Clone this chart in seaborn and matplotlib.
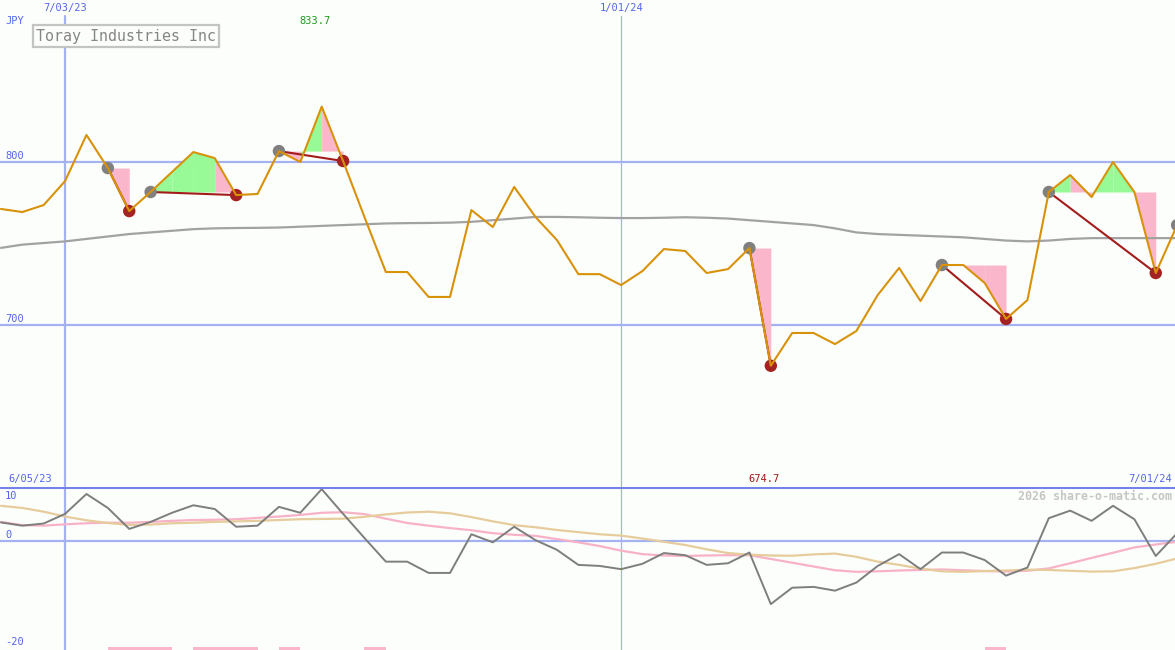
import numpy as np
import pandas as pd
import seaborn as sns
import matplotlib.pyplot as plt
import matplotlib.dates as mdates

sns.set_style("white")
plt.rcParams['font.family'] = ['DejaVu Sans Mono', 'DejaVu Sans']

# weekly data, 12 Jun 2023 .. 1 Jul 2024
weeks = pd.date_range('2023-06-12', '2024-07-01', freq='W-MON')

price = [770.9, 769.0, 773.3, 788.0, 816.3, 796.0, 769.6, 781.3, 793.6, 805.8,
         802.1, 779.4, 780.1, 806.4, 799.7, 833.7, 800.3, 765.9, 732.2, 732.2,
         716.9, 716.9, 770.2, 759.8, 784.4, 765.9, 751.8, 730.9, 730.9, 724.2,
         732.8, 746.3, 745.1, 731.6, 734.0, 746.9, 674.7, 694.8, 694.8, 688.0,
         696.0, 718.1, 734.7, 714.4, 736.5, 736.5, 725.5, 703.4, 715.0, 781.3,
         791.7, 778.2, 799.7, 781.3, 731.6, 761.0]

ma = [747.0, 749.0, 750.0, 751.0, 752.5, 754.0, 755.5, 756.5, 757.5, 758.5,
      759.0, 759.2, 759.3, 759.5, 760.0, 760.5, 761.0, 761.5, 762.0, 762.2,
      762.3, 762.5, 763.0, 764.0, 765.0, 766.0, 766.0, 765.8, 765.5, 765.3,
      765.3, 765.5, 765.8, 765.5, 765.0, 764.0, 763.0, 762.0, 761.0, 759.0,
      756.5, 755.5, 755.0, 754.5, 754.0, 753.5, 752.5, 751.5, 751.0, 751.5,
      752.5, 753.0, 753.0, 753.0, 753.0, 753.0]

osc = [3.4, 2.8, 3.2, 5.0, 8.7, 6.1, 2.2, 3.5, 5.2, 6.6,
       5.9, 2.6, 2.8, 6.3, 5.2, 9.6, 5.0, 0.5, -3.9, -3.9,
       -6.0, -6.0, 1.2, -0.3, 2.6, 0.1, -1.7, -4.5, -4.7, -5.3,
       -4.3, -2.3, -2.7, -4.5, -4.2, -2.2, -11.8, -8.75, -8.6, -9.3,
       -7.8, -4.7, -2.5, -5.3, -2.2, -2.2, -3.6, -6.5, -5.0, 4.2,
       5.6, 3.7, 6.5, 4.0, -2.85, 1.4]

osc_fast = [3.5, 2.9, 2.8, 3.05, 3.25, 3.35, 3.35, 3.5, 3.7, 3.85,
            3.9, 4.0, 4.25, 4.5, 4.8, 5.2, 5.3, 4.95, 4.1, 3.3,
            2.8, 2.35, 1.95, 1.4, 1.1, 0.9, 0.3, -0.3, -1.0, -1.85,
            -2.5, -2.75, -2.85, -2.75, -2.7, -2.7, -3.4, -4.1, -4.8, -5.5,
            -5.8, -5.7, -5.55, -5.45, -5.35, -5.5, -5.65, -5.75, -5.6, -5.15,
            -4.2, -3.2, -2.25, -1.25, -0.7, -0.2]

osc_slow = [6.5, 6.1, 5.4, 4.5, 3.8, 3.3, 2.95, 3.0, 3.25, 3.35,
            3.5, 3.6, 3.7, 3.85, 4.0, 4.05, 4.1, 4.45, 4.9, 5.25,
            5.4, 5.1, 4.4, 3.6, 2.9, 2.5, 2.0, 1.6, 1.2, 0.95,
            0.4, -0.2, -0.8, -1.6, -2.3, -2.6, -2.75, -2.8, -2.55, -2.4,
            -3.0, -3.9, -4.5, -5.2, -5.7, -5.8, -5.65, -5.55, -5.4, -5.45,
            -5.6, -5.75, -5.7, -5.1, -4.3, -3.3]

# turning points (indices into weeks): peak -> following trough, shading per week
swings = [(5, 6, 'P'), (7, 11, 'GGGP'), (13, 16, 'PGP'),
          (35, 36, 'P'), (44, 47, 'PPP'), (49, 54, 'GPGGP')]
last_peak = 55

# signal bars at the foot of the lower panel (start, end week index)
bar_start = [5, 9, 13, 17, 46]
bar_end = [8, 12, 14, 18, 47]

bg = '#fcfefb'
grid = '#a4b2f2'
blue_txt = '#5565ea'
orange = '#d8920a'
pink = '#fab6cb'
green = '#98fa96'
fill_col = {'P': pink, 'G': green}

df = pd.DataFrame({'week': weeks, 'price': price, 'ma': ma, 'osc': osc,
                   'fast': osc_fast, 'slow': osc_slow})

fig = plt.figure(figsize=(11.75, 6.5), dpi=100, facecolor=bg)
ax = fig.add_axes([0, 163 / 650, 1, 487 / 650], facecolor=bg)
ax2 = fig.add_axes([0, 0, 1, 163 / 650], facecolor=bg)

d_jul = pd.Timestamp('2023-07-03')
d_jan = pd.Timestamp('2024-01-01')
xlim = (d_jul - pd.Timedelta(days=21.3), d_jul + pd.Timedelta(days=363.3))

# grid
top = 1 - 16 / 487
ax.axvline(d_jul, ymax=top, color=grid, lw=1.6, zorder=0)
ax.axvline(d_jan, ymax=top, color=grid, lw=0.9, zorder=0)
ax2.axvline(d_jul, color=grid, lw=1.6, zorder=0)
ax2.axvline(d_jan, color=grid, lw=0.9, zorder=0)
for v in (800, 700):
    ax.axhline(v, color=grid, lw=1.6, zorder=0)
ax2.axhline(0, color=grid, lw=1.6, zorder=0)
ax2.axhline(10.0, color='#7282ea', lw=2.2, zorder=6)

# shading between price and the peak level
for g, r, cols in swings:
    level = price[g]
    for j, c in enumerate(cols):
        i = g + j
        ax.fill_between(weeks[i:i + 2], price[i:i + 2], level,
                        color=fill_col[c], lw=0, zorder=1)

sns.lineplot(data=df, x='week', y='ma', ax=ax, color='#a2a2a2', lw=1.6, zorder=2)

for g, r, _ in swings:
    ax.plot([weeks[g], weeks[r]], [price[g], price[r]], color='#a31c1c', lw=1.5, zorder=3)

peaks = [g for g, _, _ in swings] + [last_peak]
troughs = [r for _, r, _ in swings]
sns.scatterplot(x=weeks[peaks], y=[price[i] for i in peaks], ax=ax, s=80,
                color='#808080', edgecolor='none', zorder=4)
sns.scatterplot(x=weeks[troughs], y=[price[i] for i in troughs], ax=ax, s=80,
                color='#a52222', edgecolor='none', zorder=4)
sns.lineplot(data=df, x='week', y='price', ax=ax, color=orange, lw=1.5, zorder=5)

# lower panel
for b0, b1 in zip(bar_start, bar_end):
    ax2.fill_between(weeks[[b0, b1]], -20.35, -19.8, color=pink, lw=0, zorder=1)
sns.lineplot(data=df, x='week', y='fast', ax=ax2, color='#f8b2c8', lw=1.6, zorder=2)
sns.lineplot(data=df, x='week', y='slow', ax=ax2, color='#e6cc9c', lw=1.6, zorder=3)
sns.lineplot(data=df, x='week', y='osc', ax=ax2, color='#7e7e7e', lw=1.4, zorder=4)

for a in (ax, ax2):
    a.set_xlim(xlim)
    a.set_xticks([])
    a.set_yticks([])
    a.set_xlabel('')
    a.set_ylabel('')
    for s in a.spines.values():
        s.set_visible(False)
ax.set_ylim(600.3, 899.1)
ax2.set_ylim(-20.35, 10.0)

# labels
fs = 7.5
xt = ax.get_xaxis_transform()
yt = ax.get_yaxis_transform()
n_jul = mdates.date2num(d_jul)
n_jan = mdates.date2num(d_jan)
n_max = mdates.date2num(weeks[int(np.argmax(price))])
n_min = mdates.date2num(weeks[int(np.argmin(price))])

ax.text(5 / 1175, 1 - 21 / 487, 'JPY', transform=ax.transAxes, color=blue_txt,
        fontsize=fs, va='center', ha='left')
ax.text(5 / 1175, 803.4, '800', transform=yt, color=blue_txt,
        fontsize=fs, va='center', ha='left')
ax.text(5 / 1175, 703.4, '700', transform=yt, color=blue_txt,
        fontsize=fs, va='center', ha='left')
ax.text(n_jul, 1 - 8.5 / 487, '7/03/23', transform=xt,
        color=blue_txt, fontsize=fs, va='center', ha='center')
ax.text(n_jan, 1 - 8.5 / 487, '1/01/24', transform=xt,
        color=blue_txt, fontsize=fs, va='center', ha='center')
ax.annotate('%.1f' % max(price), xy=(n_max, 1 - 20.5 / 487),
            xycoords=xt, xytext=(-5, 0), textcoords='offset points',
            color='#1f9a1f', fontsize=fs, va='center', ha='center')
ax.annotate('%.1f' % min(price), xy=(n_min, 8 / 487),
            xycoords=xt, xytext=(-5, 0), textcoords='offset points',
            color='#a01818', fontsize=fs, va='center', ha='center')
ax.text(8 / 1175, 8 / 487, '6/05/23', transform=ax.transAxes, color=blue_txt,
        fontsize=fs, va='center', ha='left')
ax.text(1172 / 1175, 8 / 487, '7/01/24', transform=ax.transAxes, color=blue_txt,
        fontsize=fs, va='center', ha='right')
ax.text(36 / 1175, 1 - 36 / 487, 'Toray Industries Inc', transform=ax.transAxes,
        color='#858585', fontsize=10.8, va='center', ha='left',
        bbox=dict(boxstyle='square,pad=0.22', fc=bg, ec='#c4c4c4', lw=1.6), zorder=7)

yt2 = ax2.get_yaxis_transform()
ax2.text(5 / 1175, 8.3, '10', transform=yt2, color=blue_txt, fontsize=fs, va='center')
ax2.text(5 / 1175, 1.06, '0', transform=yt2, color=blue_txt, fontsize=fs, va='center')
ax2.text(5 / 1175, -18.9, '-20', transform=yt2, color=blue_txt, fontsize=fs, va='center')
ax2.text(1172 / 1175, 1 - 9 / 163, '2026 share-o-matic.com', transform=ax2.transAxes,
         color='#c6c6c6', fontsize=8.4, fontweight='bold', va='center', ha='right')

fig.savefig('out.png', dpi=100, facecolor=bg)
